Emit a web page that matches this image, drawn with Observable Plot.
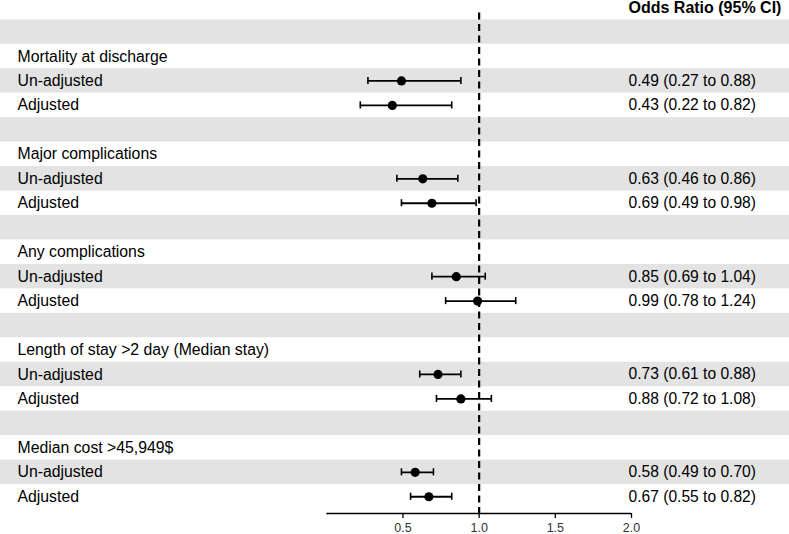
<!DOCTYPE html>
<html>
<head>
<meta charset="utf-8">
<script src="https://cdn.jsdelivr.net/npm/d3@7"></script>
<script src="https://cdn.jsdelivr.net/npm/@observablehq/plot@0.6"></script>
<style>
  html, body { margin: 0; padding: 0; background: #fff; }
  svg { display: block; }
</style>
</head>
<body>
<div id="chart"></div>
<script>
// Outcome groups, in display order
const groups = [
  "Mortality at discharge",
  "Major complications",
  "Any complications",
  "Length of stay >2 day (Median stay)",
  "Median cost >45,949$"
];
// Sub-rows within each group
const models = ["Un-adjusted", "Adjusted"];
// Odds ratios and 95% CI per group: [un-adjusted, adjusted]
const oddsRatio = [[0.49, 0.43], [0.63, 0.69], [0.85, 0.99], [0.73, 0.88], [0.58, 0.67]];
const ciLower   = [[0.27, 0.22], [0.46, 0.49], [0.69, 0.78], [0.61, 0.72], [0.49, 0.55]];
const ciUpper   = [[0.88, 0.82], [0.86, 0.98], [1.04, 1.24], [0.88, 1.08], [0.70, 0.82]];
// Axis ticks
const xTicks = [0.5, 1.0, 1.5, 2.0];
const headerText = "Odds Ratio (95% CI)";

// Build the table of rows: a blank spacer, a group heading, then the two model rows
const rows = [];
let r = 1;
groups.forEach((g, gi) => {
  rows.push({row: r++, kind: "blank", label: ""});
  rows.push({row: r++, kind: "group", label: g});
  models.forEach((m, mi) => {
    rows.push({
      row: r++, kind: "est", label: m,
      or: oddsRatio[gi][mi], lo: ciLower[gi][mi], hi: ciUpper[gi][mi],
      text: `${oddsRatio[gi][mi].toFixed(2)} (${ciLower[gi][mi].toFixed(2)} to ${ciUpper[gi][mi].toFixed(2)})`
    });
  });
});
const est = rows.filter(d => d.kind === "est");
const shaded = rows.filter(d => d.row % 2 === 1);

const fontFamily = "Liberation Sans, Arial, Helvetica, sans-serif";
const yTop = -0.289, yBottom = 20.684;
const capHalf = 0.145;
const tickLen = 0.2; // tick length below the axis line, in row units

const plot = Plot.plot({
  width: 789,
  height: 534,
  marginTop: 0,
  marginBottom: 21,
  marginLeft: 0,
  marginRight: 0,
  style: {fontFamily, background: "#fff"},
  x: {domain: [0, 2], range: [326.3, 631], axis: null},
  y: {domain: [yTop, yBottom], range: [0, 513], axis: null},
  marks: [
    // alternating row shading
    Plot.rect(shaded, {y1: d => d.row - 0.5, y2: d => d.row + 0.5, fill: "#e3e3e3"}),
    // line of no effect
    Plot.ruleX([1], {y1: 0.22, y2: yBottom, stroke: "#000", strokeWidth: 2.2, strokeDasharray: "7,4.5"}),
    // x axis: baseline, ticks and tick labels
    Plot.ruleY([yBottom], {x1: 0, x2: 2, stroke: "#000", strokeWidth: 1.3}),
    Plot.ruleX(xTicks, {x: d => d, y1: yBottom, y2: yBottom + tickLen, stroke: "#000", strokeWidth: 1.3}),
    Plot.text(xTicks, {
      x: d => d, text: d => d.toFixed(1), frameAnchor: "bottom", lineAnchor: "top",
      dy: 10, fontSize: 12.5, fill: "#333"
    }),
    // confidence intervals with caps
    Plot.ruleY(est, {y: "row", x1: "lo", x2: "hi", stroke: "#000", strokeWidth: 1.8}),
    Plot.ruleX(est, {x: "lo", y1: d => d.row - capHalf, y2: d => d.row + capHalf, stroke: "#000", strokeWidth: 1.6}),
    Plot.ruleX(est, {x: "hi", y1: d => d.row - capHalf, y2: d => d.row + capHalf, stroke: "#000", strokeWidth: 1.6}),
    // point estimates
    Plot.dot(est, {x: "or", y: "row", r: 4.6, fill: "#000", stroke: null}),
    // left labels
    Plot.text(rows.filter(d => d.label), {
      y: "row", text: "label", frameAnchor: "left", dx: 17,
      textAnchor: "start", fontSize: 15.8, fill: "#000"
    }),
    // right-hand estimate text
    Plot.text(est, {
      y: "row", text: "text", frameAnchor: "left", dx: 628,
      textAnchor: "start", fontSize: 15.6, fill: "#000"
    }),
    // column header
    Plot.text([headerText], {
      y: [0], text: d => d, frameAnchor: "left", dx: 628,
      textAnchor: "start", fontSize: 16, fontWeight: "bold", fill: "#000"
    })
  ]
});
document.getElementById("chart").appendChild(plot);
</script>
</body>
</html>
